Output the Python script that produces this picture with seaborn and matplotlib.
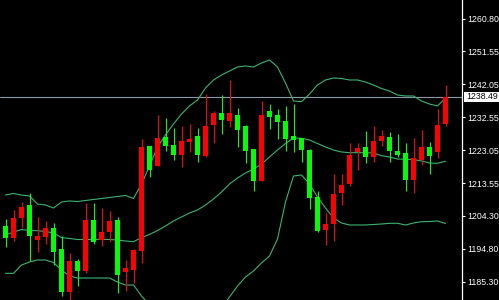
import numpy as np
import pandas as pd
import matplotlib
matplotlib.use("Agg")
import matplotlib.pyplot as plt
import matplotlib.transforms as mtransforms
from matplotlib.patches import Rectangle
import seaborn as sns

# ---------------- data ----------------
opens = [1201.30, 1197.85, 1203.60, 1207.34, 1197.28, 1198.14, 1200.72, 1194.69, 1182.33, 1191.24,
         1188.37, 1203.02, 1197.28, 1199.57, 1203.02, 1188.08, 1188.65, 1194.11, 1224.29, 1218.55,
         1226.88, 1224.58, 1221.71, 1225.45, 1227.17, 1221.42, 1230.33, 1233.78, 1231.48, 1233.21,
         1230.04, 1223.43, 1214.23, 1234.36, 1233.21, 1231.48, 1227.17, 1226.59, 1223.15, 1209.64,
         1200.15, 1201.87, 1210.79, 1213.37, 1222.57, 1224.01, 1221.13, 1225.73, 1226.88, 1222.86,
         1222.28, 1214.52, 1220.27, 1224.01, 1222.57, 1230.62]
highs = [1203.31, 1205.90, 1208.20, 1210.79, 1203.89, 1202.74, 1202.16, 1198.43, 1193.54, 1191.81,
         1207.91, 1207.91, 1206.47, 1205.61, 1203.89, 1191.53, 1194.69, 1226.31, 1224.29, 1233.21,
         1232.34, 1229.47, 1230.04, 1230.62, 1229.47, 1239.24, 1234.36, 1238.95, 1243.27, 1235.22,
         1230.33, 1223.43, 1237.23, 1236.37, 1234.93, 1235.79, 1236.37, 1226.59, 1223.43, 1211.36,
         1205.04, 1216.25, 1216.25, 1225.16, 1225.16, 1228.61, 1230.04, 1228.89, 1228.32, 1227.74,
         1225.16, 1226.59, 1228.89, 1225.45, 1234.93, 1241.83]
lows = [1195.26, 1196.99, 1200.72, 1191.24, 1193.83, 1196.13, 1190.09, 1181.18, 1179.45, 1184.05,
        1187.79, 1196.13, 1195.55, 1196.70, 1182.04, 1182.62, 1184.92, 1190.66, 1215.38, 1218.55,
        1222.86, 1220.27, 1218.26, 1222.57, 1219.70, 1221.13, 1225.16, 1227.74, 1229.76, 1224.01,
        1219.41, 1211.36, 1214.23, 1229.18, 1226.31, 1222.86, 1222.57, 1219.70, 1206.19, 1199.57,
        1195.84, 1196.99, 1207.34, 1212.80, 1217.40, 1219.41, 1219.70, 1224.29, 1219.70, 1221.13,
        1211.36, 1210.79, 1218.83, 1216.25, 1220.85, 1230.04]
closes = [1197.85, 1203.60, 1206.76, 1198.43, 1198.43, 1200.72, 1193.83, 1182.33, 1191.24, 1188.37,
          1203.02, 1196.70, 1199.57, 1202.74, 1187.22, 1189.23, 1194.40, 1224.01, 1217.40, 1226.59,
          1224.29, 1221.71, 1225.73, 1226.31, 1221.71, 1230.04, 1233.78, 1231.77, 1233.78, 1228.89,
          1222.86, 1214.23, 1233.21, 1232.63, 1231.19, 1226.31, 1226.02, 1223.15, 1209.35, 1199.86,
          1201.87, 1210.50, 1213.08, 1221.71, 1223.72, 1221.13, 1225.73, 1227.17, 1222.86, 1221.71,
          1214.52, 1220.85, 1224.01, 1221.42, 1230.33, 1238.49]

band_upper = [1210.21, 1210.64, 1210.21, 1209.92, 1207.62, 1207.34, 1206.47, 1208.20, 1208.49, 1208.34,
              1208.63, 1208.92, 1209.20, 1209.49, 1209.78, 1210.07, 1209.20, 1213.37, 1218.55, 1224.01,
              1227.46, 1230.62, 1233.49, 1235.79, 1237.52, 1240.97, 1243.27, 1244.70, 1245.85, 1247.00,
              1247.29, 1247.00, 1248.15, 1249.01, 1247.00, 1242.40, 1237.23, 1237.03, 1239.24, 1241.83,
              1243.27, 1243.84, 1243.70, 1243.27, 1243.27, 1242.69, 1241.83, 1240.82, 1240.10, 1238.95,
              1238.67, 1238.67, 1237.23, 1236.37, 1235.79, 1238.09]
band_middle = [1198.71, 1199.57, 1200.29, 1200.01, 1199.95, 1199.72, 1199.29, 1197.99, 1197.71, 1197.42,
               1197.42, 1197.42, 1197.48, 1197.42, 1197.28, 1196.99, 1196.79, 1197.99, 1198.86, 1200.01,
               1201.30, 1202.74, 1203.89, 1205.04, 1205.90, 1207.34, 1209.06, 1211.07, 1213.37, 1215.10,
               1216.53, 1217.68, 1219.12, 1221.13, 1223.15, 1225.01, 1226.59, 1226.51, 1226.02, 1225.01,
               1224.01, 1223.15, 1222.57, 1222.37, 1222.37, 1222.37, 1222.28, 1221.51, 1221.13, 1220.56,
               1220.47, 1220.41, 1219.98, 1219.41, 1219.32, 1219.90]
band_lower = [1187.70, 1187.70, 1190.09, 1190.95, 1191.53, 1191.53, 1190.81, 1188.65, 1186.93, 1186.35,
              1186.35, 1186.35, 1186.35, 1186.35, 1185.20, 1184.34, 1184.34, 1181.18, 1178.59, 1176.01,
              1175.14, 1174.86, 1174.28, 1174.28, 1174.28, 1173.71, 1174.86, 1177.44, 1180.89, 1184.05,
              1186.64, 1188.37, 1190.66, 1192.68, 1197.56, 1208.20, 1215.67, 1215.96, 1213.37, 1209.64,
              1206.47, 1203.60, 1202.16, 1201.59, 1201.59, 1201.59, 1201.73, 1201.87, 1202.08, 1202.08,
              1201.59, 1202.16, 1202.54, 1202.59, 1202.74, 1202.02]

tick_values = [1260.80, 1251.55, 1242.05, 1232.55, 1223.05, 1213.55, 1204.30, 1194.80, 1185.30]
tick_labels = ["1260.80", "1251.55", "1242.05", "1232.55", "1223.05", "1213.55", "1204.30", "1194.80", "1185.30"]
current_price = 1238.49
current_label = "1238.49"

# ---------------- style ----------------
sns.set_style("dark")
plt.rcParams["font.family"] = ["Liberation Sans", "DejaVu Sans"]

W, H = 499, 300
fig = plt.figure(figsize=(W / 100, H / 100), dpi=100, facecolor="black")
plot_w = 462
ax = fig.add_axes([0, 0, plot_w / W, 1.0])
ax.set_facecolor("black")

n = len(closes)
idx = np.arange(n)
df = pd.DataFrame({"i": idx, "upper": band_upper, "middle": band_middle, "lower": band_lower})

band_color = "#3cb371"
for col in ["upper", "middle", "lower"]:
    sns.lineplot(data=df, x="i", y=col, ax=ax, color=band_color, linewidth=0.8, zorder=2)

# current price line
ax.axhline(current_price, color="#8a9aaa", linewidth=0.8, zorder=1)

# candles
o = np.array(opens); c = np.array(closes); hi = np.array(highs); lo = np.array(lows)
up = c >= o
colors = np.where(up, "#ff0000", "#00ff00")
ax.vlines(idx, lo, hi, colors=colors, linewidth=0.8, zorder=3)
bottoms = np.minimum(o, c)
heights = np.maximum(np.abs(c - o), 0.3)
ax.bar(idx, heights, bottom=bottoms, width=0.64, color=colors, linewidth=0, zorder=4)

# axes limits
px_per_unit = 3.479
top_price = 1266.261
ax.set_ylim(top_price - H / px_per_unit, top_price)
ax.set_xlim(-5.5 / 8, (plot_w - 5.5) / 8)

# axes decoration
ax.set_xlabel(""); ax.set_ylabel("")
ax.set_xticks([])
ax.yaxis.tick_right()
ax.set_yticks(tick_values)
ax.set_yticklabels(tick_labels)
ax.tick_params(axis="y", colors="white", direction="out", length=2.0, width=0.8, pad=1.5,
               labelsize=6.3, labelcolor="white", right=True, left=False)
for s in ["top", "bottom", "left"]:
    ax.spines[s].set_visible(False)
ax.spines["right"].set_color("white")
ax.spines["right"].set_linewidth(0.9)
ax.grid(False)

# current price label box
trans = mtransforms.blended_transform_factory(ax.transAxes, ax.transData)
half = 5.0 / px_per_unit
ax.add_patch(Rectangle((1.0 + 1.5 / plot_w, current_price - half), 40 / plot_w, 2 * half,
                       transform=trans, facecolor="white", edgecolor="none", clip_on=False, zorder=5))
ax.text(1.0 + 4.5 / plot_w, current_price, current_label, transform=trans, ha="left", va="center",
        color="black", fontsize=6.3, zorder=6, clip_on=False)

fig.savefig("out.png", dpi=100, facecolor="black")
